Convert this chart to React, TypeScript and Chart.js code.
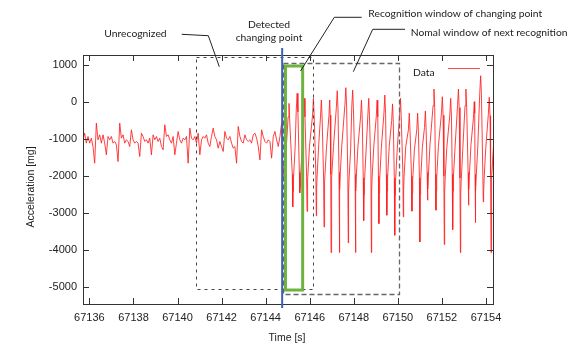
import React, { useEffect, useRef } from "react";
import { Chart, registerables } from "chart.js";

Chart.register(...registerables);

// ---- axes ----
const xTicks = [67136, 67138, 67140, 67142, 67144, 67146, 67148, 67150, 67152, 67154];
const yTicks = [-5000, -4000, -3000, -2000, -1000, 0, 1000];
const xMin = 67135.71;
const xMax = 67154.32;
const yMin = -5450;
const yMax = 1270;

// ---- calm segment (uniformly sampled) ----
const calmStart = 67135.71;
const calmStep = 0.07576;
const calmAccel = [
  -1019, -839, -1109, -929, -1109, -974, -1199, -1650, -568, -1019,
  -884, -1109, -884, -1109, -1424, -929, -1019, -929, -1109, -1064,
  -1154, -1605, -568, -974, -884, -1109, -1019, -1064, -1199, -749,
  -1019, -1109, -1064, -1109, -1469, -839, -929, -1064, -1019, -1109,
  -974, -1424, -884, -1019, -929, -1064, -974, -1199, -1289, -613,
  -929, -884, -1019, -1109, -929, -1424, -1109, -794, -1019, -1109,
  -974, -1019, -929, -1650,
  -704, -974, -1019, -929, -1109, -839, -1424, -1019, -929, -974,
  -884, -1109, -1199, -929, -704, -929, -1019, -1244, -1064, -1199,
  -1334, -794, -974, -1019, -929, -1109, -1244, -1199, -1650, -659,
  -929, -1064, -1109, -884, -1019, -1064, -1019, -1109, -884, -839,
  -974, -1199, -1560, -749, -929, -1064, -1109, -1019, -1064, -1514,
  -929, -794, -1019, -1199, -929, -568,
];

// ---- active segment (walking) ----
const activeTime = [
  67144.77, 67144.80, 67144.83, 67144.87, 67144.95, 67145.02,
  67145.06, 67145.095, 67145.21, 67145.23, 67145.245, 67145.265, 67145.34, 67145.39,
  67145.43, 67145.465, 67145.53, 67145.55, 67145.565, 67145.585, 67145.66, 67145.71,
  67145.75, 67145.785, 67145.86, 67145.88, 67145.895, 67145.915, 67145.99, 67146.13,
  67146.17, 67146.205, 67146.28, 67146.30, 67146.315, 67146.335, 67146.41, 67146.49,
  67146.53, 67146.565, 67146.63, 67146.65, 67146.665, 67146.685, 67146.76, 67146.87,
  67146.91, 67146.93, 67146.955, 67146.97, 67146.985, 67147.005, 67147.08, 67147.21,
  67147.25, 67147.285, 67147.33, 67147.35, 67147.365, 67147.385, 67147.46, 67147.60,
  67147.64, 67147.675, 67147.73, 67147.75, 67147.765, 67147.785, 67147.86, 67147.91,
  67147.95, 67147.985, 67148.06, 67148.08, 67148.095, 67148.115, 67148.19, 67148.31,
  67148.35, 67148.385, 67148.43, 67148.45, 67148.465, 67148.485, 67148.56, 67148.64,
  67148.68, 67148.715, 67148.78, 67148.80, 67148.815, 67148.835, 67148.91, 67149.02,
  67149.06, 67149.09, 67149.12, 67149.14, 67149.155, 67149.175, 67149.25, 67149.37,
  67149.41, 67149.445, 67149.48, 67149.50, 67149.515, 67149.535, 67149.61, 67149.72,
  67149.76, 67149.795, 67149.84, 67149.86, 67149.875, 67149.895, 67149.97, 67150.08,
  67150.12, 67150.155, 67150.23, 67150.25, 67150.265, 67150.285, 67150.36, 67150.48,
  67150.52, 67150.555, 67150.62, 67150.64, 67150.655, 67150.675, 67150.75, 67150.86,
  67150.90, 67150.935, 67150.98, 67151.00, 67151.015, 67151.035, 67151.11, 67151.21,
  67151.25, 67151.285, 67151.33, 67151.35, 67151.365, 67151.385, 67151.46, 67151.60,
  67151.64, 67151.675, 67151.71, 67151.73, 67151.745, 67151.765, 67151.84, 67151.98,
  67152.02, 67152.055, 67152.09, 67152.11, 67152.125, 67152.145, 67152.22, 67152.36,
  67152.40, 67152.435, 67152.47, 67152.49, 67152.505, 67152.525, 67152.60, 67152.71,
  67152.75, 67152.785, 67152.82, 67152.84, 67152.855, 67152.875, 67152.95, 67153.05,
  67153.09, 67153.125, 67153.19, 67153.21, 67153.225, 67153.245, 67153.32, 67153.43,
  67153.47, 67153.49, 67153.505, 67153.52, 67153.535, 67153.555, 67153.63, 67153.72,
  67153.76, 67153.795, 67153.86, 67153.88, 67153.895, 67153.915, 67153.99, 67154.11,
  67154.15, 67154.185, 67154.21, 67154.23, 67154.245, 67154.265, 67154.34,
];
const activeAccel = [
  -1750, -2100, -1650, -1950, -1100, -400,
  -36, -536, -1950, -2830, -2400, -2050, -1200, -215,
  235, -265, -1900, -2450, -2300, -2000, -1250, -350,
  100, -400, -2000, -2950, -2450, -2100, -1200, -350,
  100, -400, -1950, -3070, -2350, -2000, -1150, -400,
  54, -450, -2050, -3370, -2500, -2150, -1250, -400,
  54, -350, -1950, -4063, -2400, -2050, -1200, -150,
  306, -200, -1900, -4063, -2350, -1950, -1150, -60,
  387, -110, -2000, -3800, -2450, -2100, -1250, -130,
  324, -180, -1950, -4063, -2400, -2000, -1200, -400,
  54, -450, -2050, -3200, -2500, -2150, -1300, -350,
  100, -400, -1900, -4063, -2350, -2000, -1200, -400,
  50, -400, -2000, -3280, -2450, -2100, -1250, -300,
  189, -310, -1950, -3054, -2400, -2050, -1200, -500,
  -50, -550, -2050, -3595, -2500, -2150, -1300, -350,
  100, -400, -1950, -3099, -2350, -2000, -1200, -750,
  -300, -800, -2000, -2946, -2450, -2100, -1300, -750,
  -300, -800, -2050, -3775, -2500, -2150, -1250, -690,
  -240, -740, -1900, -2649, -2350, -2000, -1150, -100,
  350, -150, -1950, -2919, -2400, -2050, -1200, -300,
  144, -356, -2000, -3847, -2450, -2100, -1250, -350,
  100, -400, -1950, -3442, -2400, -2000, -1200, -100,
  350, -150, -2050, -4063, -2500, -2150, -1250, -100,
  350, -150, -1900, -2784, -2350, -2000, -1150, -440,
  9, -300, -1950, -3253, -2400, -2050, -1200, 260,
  710, 210, -2000, -2694, -2450, -2100, -1250, -320,
  130, -370, -1950, -4063, -2400, -2050, -1200,
];

// ---- annotation windows (data units: tStart, tEnd, top, bottom) ----
const changePoint = 67144.75;
const unrecognizedWindow = [67140.84, 67146.14, 1224, -5046];
const normalWindow = [67144.77, 67150.07, 1062, -5181];
const recognitionWindow = [67144.9, 67145.68, 973, -5073];

const seriesLabel = "Data";
const xTitle = "Time [s]";
const yTitle = "Acceleration [mg]";

const LABEL_FONT = '"Liberation Sans", Arial, sans-serif';
const NOTE_FONT = 'Lato, "Open Sans", sans-serif';

function fitSize(ctx: CanvasRenderingContext2D, text: string, family: string, width: number) {
  ctx.font = `100px ${family}`;
  const w = ctx.measureText(text).width;
  return (100 * width) / w;
}

const overlay = {
  id: "overlay",
  afterDraw(chart: any) {
    const ctx: CanvasRenderingContext2D = chart.ctx;
    const xs = chart.scales.x;
    const ys = chart.scales.y;
    const { left, right, top, bottom } = chart.chartArea;
    const px = (v: number) => xs.getPixelForValue(v);
    const py = (v: number) => ys.getPixelForValue(v);
    const r = (v: number) => Math.round(v) + 0.5;
    ctx.save();

    // frame
    ctx.strokeStyle = "#333";
    ctx.lineWidth = 1;
    ctx.setLineDash([]);
    ctx.strokeRect(r(left), r(top), Math.round(right) - Math.round(left), Math.round(bottom) - Math.round(top));

    // inward ticks on all sides
    ctx.beginPath();
    for (const t of xTicks) {
      const x = r(px(t));
      ctx.moveTo(x, bottom);
      ctx.lineTo(x, bottom - 6);
      ctx.moveTo(x, top);
      ctx.lineTo(x, top + 6);
    }
    for (const t of yTicks) {
      const y = r(py(t));
      ctx.moveTo(left, y);
      ctx.lineTo(left + 6, y);
      ctx.moveTo(right, y);
      ctx.lineTo(right - 6, y);
    }
    ctx.stroke();

    // dashed windows
    const box = (w: number[], dash: number[], color: string, lw: number) => {
      ctx.setLineDash(dash);
      ctx.strokeStyle = color;
      ctx.lineWidth = lw;
      const x0 = r(px(w[0])), x1 = r(px(w[1])), y0 = r(py(w[2])), y1 = r(py(w[3]));
      ctx.strokeRect(x0, y0, x1 - x0, y1 - y0);
    };
    box(unrecognizedWindow, [3, 4], "#444", 1);
    box(normalWindow, [5, 3], "#666", 1.3);
    ctx.setLineDash([]);

    // recognition window (green)
    ctx.strokeStyle = "#6db33f";
    ctx.lineWidth = 3;
    {
      const w = recognitionWindow;
      const x0 = px(w[0]), x1 = px(w[1]), y0 = py(w[2]), y1 = py(w[3]);
      ctx.strokeRect(x0, y0, x1 - x0, y1 - y0);
    }

    // change point line
    ctx.strokeStyle = "#3b63b3";
    ctx.lineWidth = 2;
    ctx.beginPath();
    const cx = px(changePoint);
    ctx.moveTo(cx, top - 7);
    ctx.lineTo(cx, bottom + 4);
    ctx.stroke();

    // legend
    ctx.fillStyle = "#222";
    const noteSize = fitSize(ctx, "Recognition window of changing point", NOTE_FONT, 174);
    ctx.font = `${noteSize}px ${NOTE_FONT}`;
    ctx.textBaseline = "middle";
    ctx.textAlign = "left";
    ctx.fillText(seriesLabel, 413, 72.5);
    ctx.strokeStyle = "rgba(255,40,40,0.85)";
    ctx.lineWidth = 1;
    ctx.beginPath();
    ctx.moveTo(448, 68.5);
    ctx.lineTo(480, 68.5);
    ctx.stroke();

    // callouts
    ctx.fillStyle = "#222";
    ctx.textAlign = "center";
    ctx.fillText("Unrecognized", 135.5, 34);
    ctx.fillText("Detected", 269, 24.3);
    ctx.fillText("changing point", 269, 37.7);
    ctx.textAlign = "left";
    ctx.fillText("Recognition window of changing point", 368.3, 14);
    ctx.fillText("Nomal window of next recognition", 410.7, 32.3);

    ctx.strokeStyle = "#222";
    ctx.lineWidth = 1;
    ctx.beginPath();
    ctx.moveTo(181.7, 34.3);
    ctx.lineTo(208.3, 35.7);
    ctx.lineTo(219.3, 66.7);
    ctx.moveTo(361.7, 17.3);
    ctx.lineTo(334.3, 17.3);
    ctx.lineTo(300.5, 71);
    ctx.moveTo(405, 29.3);
    ctx.lineTo(372.7, 29.3);
    ctx.lineTo(353.3, 71.7);
    ctx.stroke();

    // axis titles
    ctx.fillStyle = "#222";
    ctx.font = `10.5px ${LABEL_FONT}`;
    ctx.textAlign = "center";
    ctx.textBaseline = "middle";
    ctx.fillText(xTitle, 287, 338);
    ctx.save();
    ctx.translate(31, 187);
    ctx.rotate(-Math.PI / 2);
    ctx.fillText(yTitle, 0, 0);
    ctx.restore();

    ctx.restore();
  },
};

export default function App() {
  const ref = useRef<HTMLCanvasElement>(null);
  useEffect(() => {
    document.body.style.margin = "0";
    const canvas = ref.current!;
    const points: { x: number; y: number }[] = [];
    calmAccel.forEach((v, i) => points.push({ x: calmStart + i * calmStep, y: v }));
    activeAccel.forEach((v, i) => points.push({ x: activeTime[i], y: v }));

    const chart = new Chart(canvas, {
      type: "line",
      data: {
        datasets: [
          {
            label: seriesLabel,
            data: points,
            borderColor: "rgba(255,30,30,0.85)",
            borderWidth: 1,
            pointRadius: 0,
            tension: 0,
            fill: false,
          },
        ],
      },
      options: {
        responsive: false,
        animation: false,
        devicePixelRatio: 1,
        layout: { padding: { top: 55, right: 79, left: 0, bottom: 0 } },
        plugins: { legend: { display: false }, tooltip: { enabled: false } },
        scales: {
          x: {
            type: "linear",
            min: xMin,
            max: xMax,
            afterBuildTicks: (s: any) => {
              s.ticks = xTicks.map((value) => ({ value }));
            },
            afterFit: (s: any) => {
              s.height = 40;
            },
            grid: { display: false, drawTicks: false },
            border: { display: false },
            ticks: {
              autoSkip: false,
              maxRotation: 0,
              padding: 7,
              color: "#222",
              font: { family: LABEL_FONT, size: 11 },
              callback: (v: any) => String(v),
            },
          },
          y: {
            type: "linear",
            min: yMin,
            max: yMax,
            afterBuildTicks: (s: any) => {
              s.ticks = yTicks.map((value) => ({ value }));
            },
            afterFit: (s: any) => {
              s.width = 83;
            },
            grid: { display: false, drawTicks: false },
            border: { display: false },
            ticks: {
              padding: 6,
              color: "#222",
              font: { family: LABEL_FONT, size: 11 },
              callback: (v: any) => String(v),
            },
          },
        },
      },
      plugins: [overlay],
    });
    return () => chart.destroy();
  }, []);
  return <canvas ref={ref} width={572} height={344} style={{ display: "block", width: 572, height: 344 }} />;
}
